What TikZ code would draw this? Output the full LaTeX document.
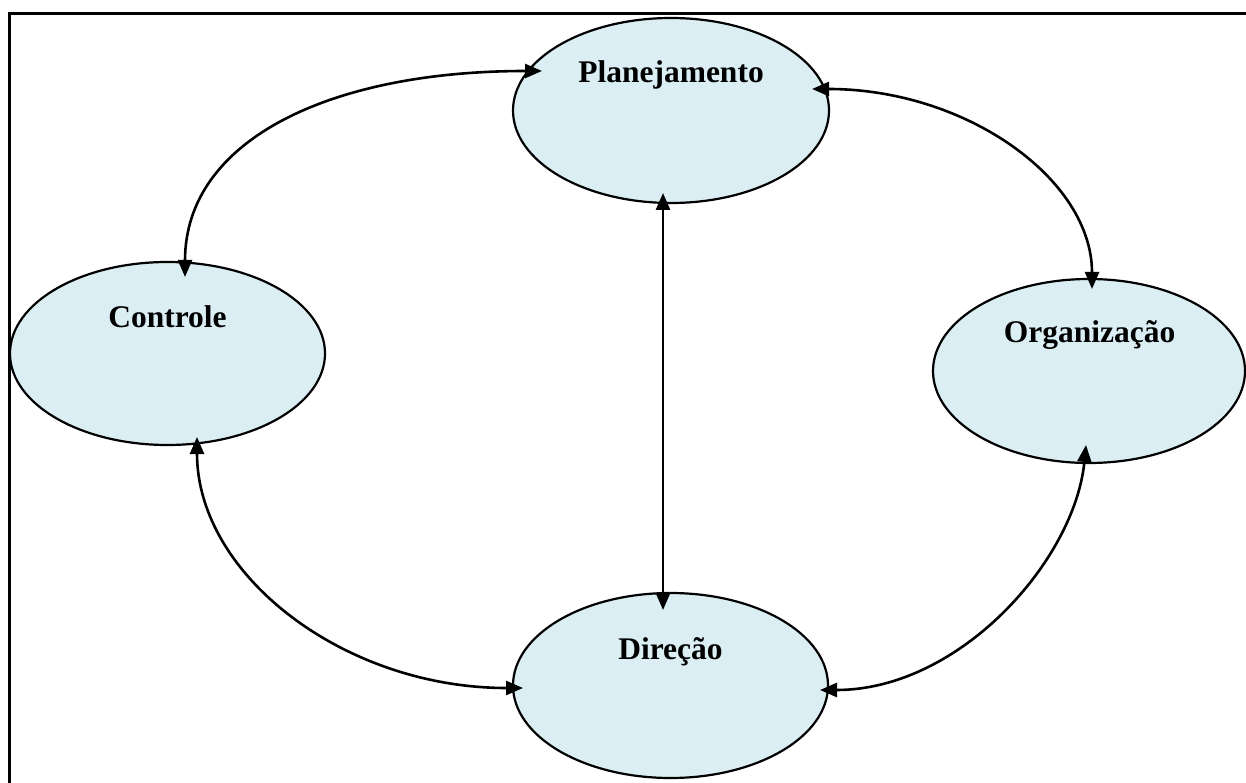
\documentclass[tikz,border=0pt]{standalone}
\usepackage{fontspec}
\setmainfont{Liberation Serif}
\usetikzlibrary{shapes.geometric,arrows.meta,calc}
\definecolor{cyclefill}{HTML}{DAEEF3}
\begin{document}
\begin{tikzpicture}[x=1pt,y=-1pt,
  phase/.style={ellipse,draw=black,line width=2.2pt,fill=cyclefill,inner sep=0pt},
  phasetext/.style={anchor=base,inner sep=0pt,font=\bfseries\fontsize{31.5}{36}\selectfont},
  link/.style={line width=2.6pt,{Triangle[length=17pt,width=14pt]}-{Triangle[length=17pt,width=14pt]}},
  frameline/.style={line width=3pt}]
\useasboundingbox (0,0) rectangle (1246,783);

% outer frame (top and left edges)
\draw[frameline] (9,783) -- (9,14) -- (1246,14);

% the four management functions
\node[phase,minimum width=316pt,minimum height=185pt] (plan) at (671,110.5) {};
\node[phase,minimum width=315pt,minimum height=183pt] (ctrl) at (167.5,353.5) {};
\node[phase,minimum width=312pt,minimum height=184pt] (org)  at (1089,371) {};
\node[phase,minimum width=315pt,minimum height=185pt] (dir)  at (670.5,685.5) {};

\node[phasetext] (planT) at ($(plan)+(0,-27.5)$) {Planejamento};
\node[phasetext] (ctrlT) at ($(ctrl)+(0,-26.5)$) {Controle};
\node[phasetext] (orgT)  at ($(org)+(0.5,-29)$) {Organização};
\node[phasetext] (dirT)  at ($(dir)+(0,-26.5)$) {Direção};

% arrow tips, just inside each ellipse
\coordinate (planW) at ($(plan)+(-129,-39.5)$);
\coordinate (planE) at ($(plan)+(141,-21.5)$);
\coordinate (planS) at ($(plan)+(-8,82.5)$);
\coordinate (ctrlN) at ($(ctrl)+(17.5,-76.5)$);
\coordinate (ctrlS) at ($(ctrl)+(29.5,83.5)$);
\coordinate (orgN)  at ($(org)+(3,-82)$);
\coordinate (orgS)  at ($(org)+(-3,74)$);
\coordinate (dirN)  at ($(dir)+(-7.5,-75.5)$);
\coordinate (dirW)  at ($(dir)+(-147.5,2.5)$);
\coordinate (dirE)  at ($(dir)+(149.5,4.5)$);

% connectors
\draw[link] (ctrlN) .. controls ($(ctrlN)+(0,-137)$) and ($(planW)+(-212,0)$) .. (planW);
\draw[link] (planE) .. controls ($(planE)+(154,0)$) and ($(orgN)+(0,-110)$) .. (orgN);
\draw[link] (planS) -- (dirN);
\draw[link] (ctrlS) .. controls ($(ctrlS)+(0,138)$) and ($(dirW)+(-179,0)$) .. (dirW);
\draw[link] (orgS) .. controls ($(orgS)+(-11,115)$) and ($(dirE)+(140,0)$) .. (dirE);
\end{tikzpicture}
\end{document}
